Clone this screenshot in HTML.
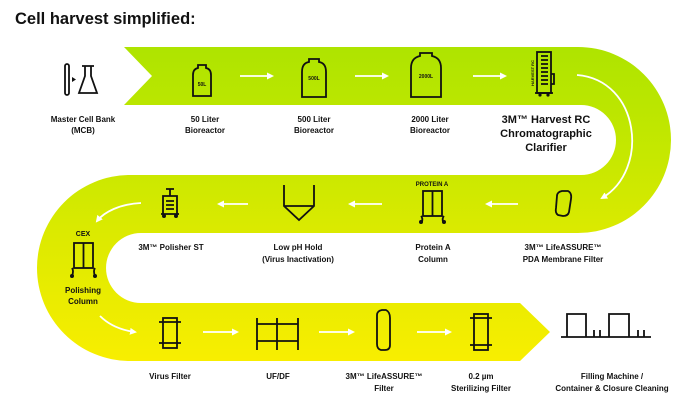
<!DOCTYPE html>
<html><head><meta charset="utf-8"><style>
html,body{margin:0;padding:0;background:#fff;width:692px;height:400px;overflow:hidden}
svg{display:block}
text{font-family:"Liberation Sans",sans-serif;fill:#111}
.l{font-size:8px;font-weight:bold;text-anchor:middle}
</style></head><body>
<svg width="692" height="400" viewBox="0 0 692 400">
<defs>
<linearGradient id="g" x1="0" y1="47" x2="0" y2="361" gradientUnits="userSpaceOnUse">
<stop offset="0" stop-color="#aee400"/>
<stop offset="0.35" stop-color="#c6e800"/>
<stop offset="0.6" stop-color="#dcea00"/>
<stop offset="1" stop-color="#f8ee00"/>
</linearGradient>
<marker id="ah" markerWidth="7" markerHeight="7" refX="5" refY="3.5" orient="auto" markerUnits="userSpaceOnUse"><path d="M0,0 L7,3.5 L0,7 Z" fill="#fff"/></marker>
</defs>
<text x="15" y="24" style="font-size:16.5px;font-weight:bold">Cell harvest simplified:</text>
<path d="M124,47 L578,47 A93,93 0 0 1 578,233 L141,233 A35,35 0 0 0 141,303 L520,303 L550,332 L520,361 L130,361 A93,93 0 0 1 130,175 L581,175 A35,35 0 0 0 581,105 L124,105 L152,76 Z" fill="url(#g)"/>
<g stroke="#fff" stroke-width="1.8" fill="none" marker-end="url(#ah)">
<line x1="240" y1="76" x2="272" y2="76"/>
<line x1="355" y1="76" x2="387" y2="76"/>
<line x1="473" y1="76" x2="505" y2="76"/>
<path d="M577,75 C640,80 650,170 602,198"/>
<line x1="518" y1="204" x2="487" y2="204"/>
<line x1="382" y1="204" x2="350" y2="204"/>
<line x1="248" y1="204" x2="219" y2="204"/>
<path d="M141,203 C120,204 104,212 97,221"/>
<path d="M100,316 C108,324 120,330 135,332"/>
<line x1="203" y1="332" x2="237" y2="332"/>
<line x1="319" y1="332" x2="353" y2="332"/>
<line x1="417" y1="332" x2="450" y2="332"/>
</g>
<g stroke="#111" stroke-width="1.8" fill="none">
<rect x="65" y="64" width="4" height="31" rx="2"/>
<path d="M82,66 H94 M85,66 V76 L79,93 H97 L91,76 V66"/>
<path d="M193,96 V75 Q193,69 198,68 V65 H206 V68 Q211,69 211,75 V96 Z"/>
<path d="M302,97 V72 Q302,63 309,62 V59 H319 V62 Q326,63 326,72 V97 Z"/>
<path d="M411,97 V68 Q411,58 420,56 V53 H432 V56 Q441,58 441,68 V97 Z"/>
<rect x="537" y="52" width="14" height="41"/>
<path d="M541,56 H548 M541,60 H548 M541,64 H548 M541,68 H548 M541,72 H548 M541,76 H548 M541,80 H548 M541,84 H548 M551,74 H554 V84 H551 M535,93 H553"/>
<path d="M557,196 Q557,192 562,191 L568,191 Q572,193 571,199 L569,212 Q568,216 563,216 L558,215 Q555,213 556,208 Z"/>
<rect x="423" y="191" width="19" height="25"/>
<path d="M432.5,191 V216 M421,216 Q423,218 422,222 M444,216 Q442,218 443,222"/>
<path d="M284,185 V206 L299,220 L314,206 V185 M284,206 H314"/>
<path d="M170,189 V196 M166,189 H174 M163,196 H177 V214 H163 Z M166,201 H174 M166,205 H174 M166,209 H174 M161,214 H179"/>
<rect x="74" y="243" width="19" height="25"/>
<path d="M83.5,243 V268 M72,268 Q74,271 72,276 M95,268 Q93,271 95,276"/>
<rect x="163" y="318" width="14" height="30"/>
<path d="M159,322 H181 M159,343 H181"/>
<path d="M257,318 V350 M298,318 V350 M277,318 V350 M257,324 H298 M257,341 H298"/>
<path d="M377,315 Q377,311 382,310 L386,310 Q390,312 390,318 V345 Q390,350 385,350 L381,350 Q377,349 377,344 Z"/>
<rect x="474" y="314" width="14" height="36"/>
<path d="M470,318 H492 M470,345 H492"/>
<path d="M561,337 H651 M567,337 V314 H586 V337 M609,337 V314 H629 V337 M594,337 V330 M600,337 V330 M638,337 V330 M644,337 V330"/>
</g>
<g fill="#111">
<path d="M72,77 L76,79.5 L72,82 Z"/>
<circle cx="421" cy="222" r="2"/><circle cx="444" cy="222" r="2"/>
<circle cx="72" cy="276" r="2"/><circle cx="95" cy="276" r="2"/>
<circle cx="164" cy="216" r="2"/><circle cx="176" cy="216" r="2"/>
<circle cx="540" cy="95" r="1.6"/><circle cx="548" cy="95" r="1.6"/>
</g>
<g style="font-size:5px;font-weight:bold" text-anchor="middle">
<text x="202" y="86">50L</text><text x="314" y="80">500L</text><text x="426" y="78">2000L</text>
</g>
<text x="534" y="73" transform="rotate(-90 534 73)" style="font-size:4px;font-weight:bold" text-anchor="middle">HARVEST RC</text>
<text class="l" x="432" y="186" style="font-size:6px">PROTEIN A</text>
<text class="l" x="83" y="236" style="font-size:7px">CEX</text>
<g class="l">
<text class="l" x="83" y="122">Master Cell Bank</text><text class="l" x="83" y="133">(MCB)</text>
<text class="l" x="205" y="122">50 Liter</text><text class="l" x="205" y="133">Bioreactor</text>
<text class="l" x="314" y="122">500 Liter</text><text class="l" x="314" y="133">Bioreactor</text>
<text class="l" x="430" y="122">2000 Liter</text><text class="l" x="430" y="133">Bioreactor</text>
<text class="l" x="546" y="123" style="font-size:11px">3M™ Harvest RC</text>
<text class="l" x="546" y="137" style="font-size:11px">Chromatographic</text>
<text class="l" x="546" y="151" style="font-size:11px">Clarifier</text>
<text class="l" x="171" y="250">3M™ Polisher ST</text>
<text class="l" x="298" y="250">Low pH Hold</text><text class="l" x="298" y="262">(Virus Inactivation)</text>
<text class="l" x="433" y="250">Protein A</text><text class="l" x="433" y="262">Column</text>
<text class="l" x="563" y="250">3M™ LifeASSURE™</text><text class="l" x="563" y="262">PDA Membrane Filter</text>
<text class="l" x="83" y="293">Polishing</text><text class="l" x="83" y="304">Column</text>
<text class="l" x="170" y="379">Virus Filter</text>
<text class="l" x="278" y="379">UF/DF</text>
<text class="l" x="384" y="379">3M™ LifeASSURE™</text><text class="l" x="384" y="391">Filter</text>
<text class="l" x="481" y="379">0.2 µm</text><text class="l" x="481" y="391">Sterilizing Filter</text>
<text class="l" x="612" y="379">Filling Machine /</text><text class="l" x="612" y="391">Container &amp; Closure Cleaning</text>
</g>
</svg>
</body></html>
